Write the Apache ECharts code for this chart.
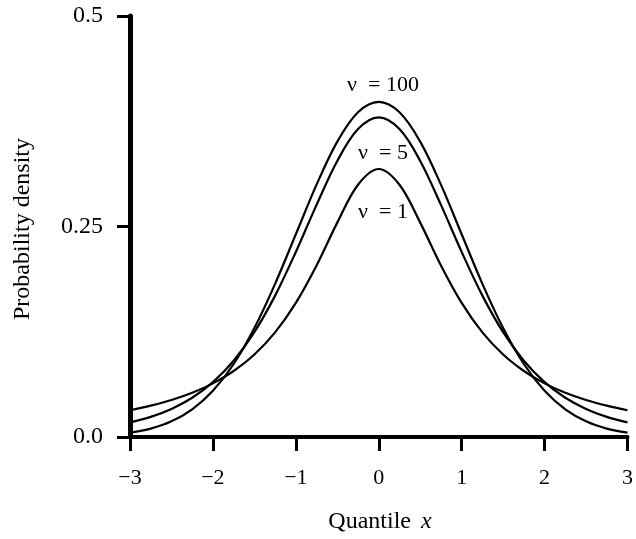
<!DOCTYPE html>
<html>
<head>
<meta charset="utf-8">
<script src="https://cdn.jsdelivr.net/npm/echarts@6/dist/echarts.min.js"></script>
<style>html,body{margin:0;padding:0;background:#fff}#c{width:636px;height:539px}</style>
</head>
<body>
<div id="c"></div>
<script>
const xs = [-3,-2.75,-2.5,-2.25,-2,-1.75,-1.5,-1.25,-1,-0.75,-0.5,-0.25,0,0.25,0.5,0.75,1,1.25,1.5,1.75,2,2.25,2.5,2.75,3];
const nu1 = [0.0318,0.0372,0.0439,0.0525,0.0637,0.0784,0.0979,0.1242,0.1592,0.2037,0.2546,0.2996,0.3183,0.2996,0.2546,0.2037,0.1592,0.1242,0.0979,0.0784,0.0637,0.0525,0.0439,0.0372,0.0318];
const nu5 = [0.0173,0.0239,0.0333,0.0466,0.0651,0.0905,0.1245,0.1679,0.2197,0.2757,0.3279,0.3657,0.3796,0.3657,0.3279,0.2757,0.2197,0.1679,0.1245,0.0905,0.0651,0.0466,0.0333,0.0239,0.0173];
const nu100 = [0.0051,0.0100,0.0186,0.0329,0.0549,0.0867,0.1294,0.1819,0.2408,0.2997,0.3508,0.3856,0.3979,0.3856,0.3508,0.2997,0.2408,0.1819,0.1294,0.0867,0.0549,0.0329,0.0186,0.0100,0.0051];
const labels = ['ν  = 100', 'ν  = 5', 'ν  = 1'];
const yTickLabels = {0: '0.0', 0.25: '0.25', 0.5: '0.5'};

const FONT = "'Liberation Serif','Times New Roman',serif";
const chart = echarts.init(document.getElementById('c'));
function mk(name, arr) {
  return {
    name: name, type: 'line', data: xs.map((x, i) => [x, arr[i]]),
    smooth: 0.35, showSymbol: false, symbol: 'none',
    lineStyle: {color: '#000', width: 2.2}, animation: false
  };
}
chart.setOption({
  animation: false,
  grid: {left: 130, right: 5, top: 16, bottom: 102},
  xAxis: {
    type: 'value', min: -3, max: 3, interval: 1,
    axisLine: {show: true, onZero: false, lineStyle: {color: '#000', width: 4}},
    axisTick: {show: true, length: 14, lineStyle: {color: '#000', width: 3}},
    axisLabel: {color: '#000', fontFamily: FONT, fontSize: 22, margin: 30,
      formatter: v => (v < 0 ? '\u2212' + Math.abs(v) : String(v))},
    splitLine: {show: false}
  },
  yAxis: {
    type: 'value', min: 0, max: 0.5, interval: 0.25,
    axisLine: {show: true, onZero: false, lineStyle: {color: '#000', width: 5}},
    axisTick: {show: true, length: 13, lineStyle: {color: '#000', width: 3}},
    axisLabel: {color: '#000', fontFamily: FONT, fontSize: 24, margin: 27,
      formatter: v => (yTickLabels[v] !== undefined ? yTickLabels[v] : String(v))},
    splitLine: {show: false}
  },
  series: [mk('nu100', nu100), mk('nu5', nu5), mk('nu1', nu1)],
  graphic: [
    {type: 'text', x: 23, y: 229, rotation: Math.PI / 2,
      style: {text: 'Probability density', font: '24px ' + FONT, fill: '#000', align: 'center', verticalAlign: 'middle'}},
    {type: 'text', x: 380, y: 522,
      style: {text: '{a|Quantile}   {b|x}', align: 'center', verticalAlign: 'middle',
        rich: {a: {font: '24px ' + FONT, fill: '#000'}, b: {font: 'italic 24px ' + FONT, fill: '#000'}}}},
    {type: 'text', x: 383, y: 85, style: {text: labels[0], font: '22px ' + FONT, fill: '#000', align: 'center', verticalAlign: 'middle'}},
    {type: 'text', x: 383, y: 153, style: {text: labels[1], font: '22px ' + FONT, fill: '#000', align: 'center', verticalAlign: 'middle'}},
    {type: 'text', x: 383, y: 212, style: {text: labels[2], font: '22px ' + FONT, fill: '#000', align: 'center', verticalAlign: 'middle'}}
  ]
});
</script>
</body>
</html>
